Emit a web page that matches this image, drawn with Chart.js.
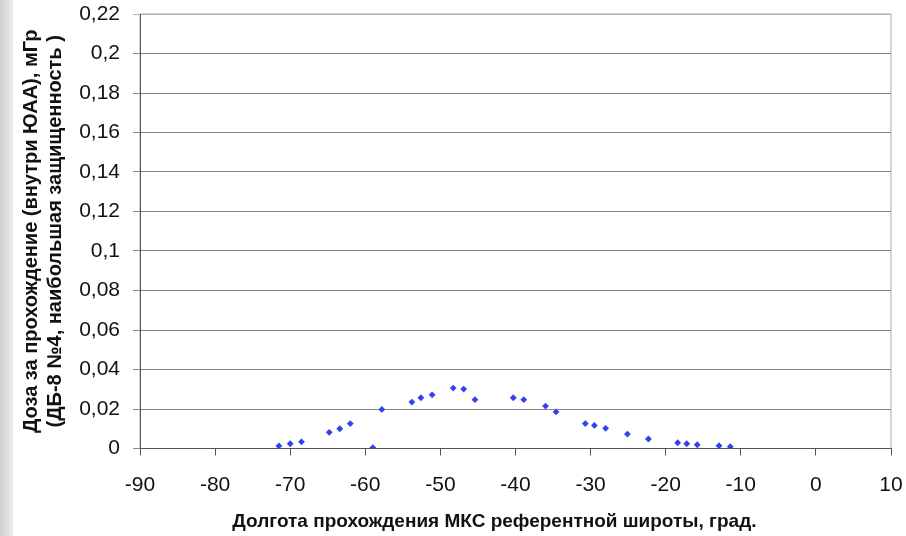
<!DOCTYPE html>
<html>
<head>
<meta charset="utf-8">
<script src="https://cdn.jsdelivr.net/npm/chart.js@4"></script>
<style>
  html, body { margin: 0; padding: 0; background: #fff; }
  #wrap { width: 906px; height: 536px; }
</style>
</head>
<body>
<div id="wrap"><canvas id="myChart" width="906" height="536"></canvas></div>
<script>
// longitude of the pass (deg) and dose per pass (mGy)
const longitudes = [-71.5, -70.0, -68.5, -64.8, -63.4, -62.0, -59.0, -57.8, -53.8, -52.6, -51.1, -48.3, -46.9, -45.4,
                    -40.3, -38.9, -36.0, -34.6, -30.7, -29.5, -28.0, -25.1, -22.3, -18.4, -17.2, -15.8, -12.9, -11.4];
const doses = [0.0013, 0.0024, 0.0034, 0.0082, 0.0100, 0.0126, 0.0004, 0.0198, 0.0235, 0.0257, 0.0272, 0.0306, 0.0301, 0.0247,
               0.0257, 0.0247, 0.0215, 0.0185, 0.0126, 0.0117, 0.0102, 0.0073, 0.0048, 0.0029, 0.0024, 0.0019, 0.0014, 0.0009];
const xTickLabels = ['-90', '-80', '-70', '-60', '-50', '-40', '-30', '-20', '-10', '0', '10'];
const yTickLabels = ['0', '0,02', '0,04', '0,06', '0,08', '0,1', '0,12', '0,14', '0,16', '0,18', '0,2', '0,22'];
const yTitle = ['Доза за прохождение (внутри ЮАА), мГр', '(ДБ-8 №4, наибольшая защищенность )'];
const xTitle = 'Долгота прохождения МКС референтной широты, град.';

const font = "'Liberation Sans', Arial, sans-serif";

const backdrop = {
    id: 'backdrop',
    beforeDraw(chart) {
        const c = chart.ctx;
        c.save();
        const g = c.createLinearGradient(0, 0, 13, 0);
        g.addColorStop(0, '#cfcfcf');
        g.addColorStop(1, '#ececec');
        c.fillStyle = g;
        c.fillRect(0, 0, 13, 536);
        const a = chart.chartArea;
        c.strokeStyle = '#b0b0b0';
        c.lineWidth = 1;
        c.strokeRect(a.left, a.top, a.right - a.left, a.bottom - a.top);
        c.restore();
    }
};

const points = longitudes.map((x, i) => ({ x: x, y: doses[i] }));

const ctx = document.getElementById('myChart').getContext('2d');
const myChart = new Chart(ctx, {
    type: 'scatter',
    data: {
        datasets: [{
            data: points,
            pointStyle: 'rectRot',
            pointRadius: 3.4,
            pointBorderWidth: 0,
            backgroundColor: '#3242ee',
            borderColor: '#3242ee'
        }]
    },
    options: {
        responsive: false,
        animation: false,
        layout: { padding: { left: 19, right: 15, top: 14, bottom: 0 } },
        plugins: { legend: { display: false }, tooltip: { enabled: false } },
        scales: {
            x: {
                type: 'linear',
                min: -90,
                max: 10,
                afterFit: (s) => {
                    s.height = 536 - 448.5;
                    s.paddingLeft = 0;
                    s.paddingRight = 0;
                },
                grid: { drawOnChartArea: false, tickLength: 7, color: '#555' },
                border: { color: '#555' },
                ticks: {
                    stepSize: 10,
                    padding: 17,
                    maxRotation: 0,
                    color: '#111',
                    font: { family: font, size: 21 },
                    callback: (v) => xTickLabels[Math.round((v + 90) / 10)]
                },
                title: {
                    display: true,
                    // trailing spaces nudge the centred title a bit to the left, as in the original
                    text: xTitle + '        ',
                    color: '#111',
                    font: { family: font, size: 19, weight: 'bold' },
                    padding: { top: 10, bottom: 3 }
                }
            },
            y: {
                min: 0,
                max: 0.22,
                afterFit: (s) => {
                    s.width = 140 - 19;
                    s.paddingTop = 0;
                    s.paddingBottom = 0;
                },
                grid: {
                    tickLength: 7,
                    color: (c) => (c.tick && Math.abs(c.tick.value - 0.22) < 1e-9) ? '#b0b0b0' : '#888'
                },
                border: { color: '#555' },
                ticks: {
                    stepSize: 0.02,
                    padding: 13,
                    color: '#111',
                    font: { family: font, size: 21 },
                    callback: (v) => yTickLabels[Math.round(v / 0.02)]
                },
                title: {
                    display: true,
                    text: yTitle,
                    color: '#111',
                    font: { family: font, size: 20, weight: 'bold', lineHeight: 1.2 },
                    padding: { top: 0, bottom: 0 }
                }
            }
        }
    },
    plugins: [backdrop]
});
</script>
</body>
</html>
